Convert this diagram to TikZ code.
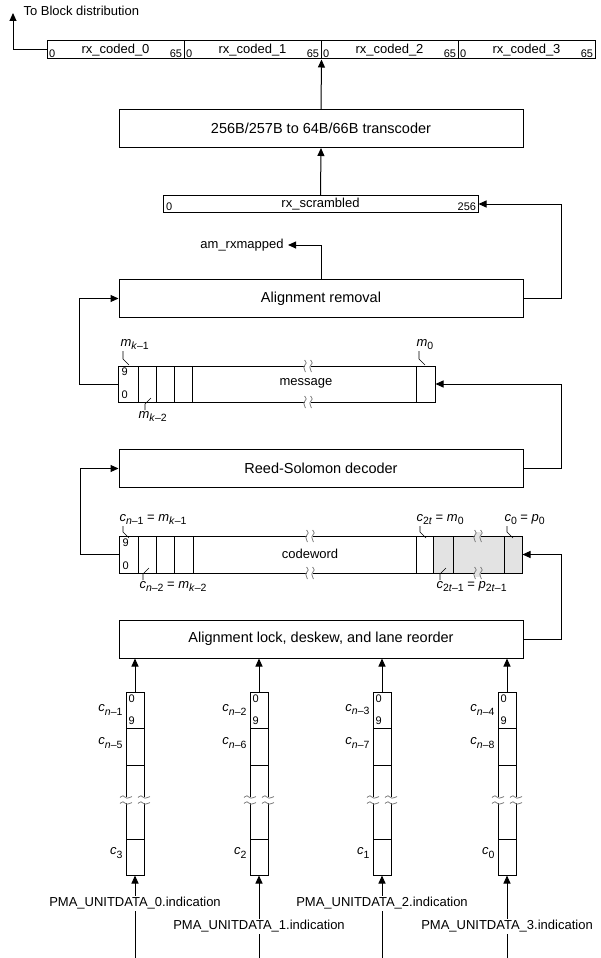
\documentclass[tikz,border=0pt]{standalone}
\usepackage{fontspec}
\setmainfont{Liberation Sans}
\usepackage{tikz}
\usetikzlibrary{positioning, arrows.meta}

\newcommand{\csym}[2]{\textit{#1}\raisebox{-0.45ex}{\fontsize{10.5}{12}\selectfont #2}}

\tikzset{
  blk/.style={draw, minimum width=404, minimum height=38, font=\fontsize{14.5}{17}\selectfont},
  reg/.style={draw, inner sep=0pt},
  lbl/.style={font=\fontsize{13}{15}\selectfont, inner sep=1pt},
  bit/.style={font=\fontsize{11}{12}\selectfont, inner sep=0pt},
  flow/.style={-{Triangle[length=8pt, width=7pt]}},
  lead/.style={line width=0.6pt},
  pics/brk/.style={code={
    \fill[#1] (-2.8,-4) rectangle (2.8,4);
    \draw[gray, line width=0.8pt] plot[smooth] coordinates {(-3.5,-6) (-1.8,-3) (-4.2,1) (-2.5,6)};
    \draw[gray, line width=0.8pt] plot[smooth] coordinates {(2.5,-6) (4.2,-3) (1.8,1) (3.5,6)};
  }},
  pics/brk/.default=white
}

\begin{document}
\begin{tikzpicture}[x=1pt, y=-1pt, line width=1pt]
\useasboundingbox (0,0) rectangle (601,958);

% Output register
\foreach \i/\x in {0/115.5, 1/252.5, 2/389.5, 3/526.5} {
  \node[reg, lbl, minimum width=137, minimum height=18] (coded\i) at (\x,50) {rx\_coded\_\i};
  \node[bit, anchor=south west] at ([shift={(2,-1.5)}]coded\i.south west) {0};
  \node[bit, anchor=south east] at ([shift={(-2,-1.5)}]coded\i.south east) {65};
}

% To block distribution
\coordinate (blkdist) at (13,13);
\node[lbl, anchor=west] (blkdisttxt) at (22,11) {To Block distribution};
\draw[flow] (coded0.west) -| (blkdist);

% Transcoder
\node[blk] (trans) at (321,128.5) {256B/257B to 64B/66B transcoder};
\draw[flow] (trans.north) -- (coded1.south east);

% rx_scrambled
\node[reg, lbl, minimum width=315, minimum height=17] (scr) at (320.5,204) {rx\_scrambled};
\node[bit, anchor=south west] at ([shift={(3,-1.5)}]scr.south west) {0};
\node[bit, anchor=south east] at ([shift={(-2,-1.5)}]scr.south east) {256};
\draw[flow] (scr.north) -- (trans.south);

% Alignment removal
\node[blk] (align) at (321,298.5) {Alignment removal};
\node[lbl, inner xsep=4pt] (amrx) at (242,245) {am\_rxmapped};
\draw[flow] (align.north) |- (amrx.east);
\draw[flow] (align.east) -- ++(38,0) |- (scr.east);

% Message
\node[reg, minimum width=317, minimum height=36] (msg) at (276.5,384) {};
\node[lbl] (msgtxt) at (306,383) {message};
\foreach \x in {138,156,174,192,416} \draw (\x,366) -- (\x,402);
\node[bit, anchor=west] at (121,372) {9};
\node[bit, anchor=west] at (121,395) {0};
\pic at (308,366) {brk};
\pic at (308,402) {brk};
\node[lbl, anchor=south west] (mk1) at (119,351) {\csym{m}{\textit{k}--1}};
\draw[lead] ([xshift=4]mk1.south west) -- ++(0,8) -- ++(6,6);
\node[lbl, anchor=south west] (m0) at (415,351) {\csym{m}{0}};
\draw[lead] ([xshift=4]m0.south west) -- ++(0,8) -- ++(6,6);
\node[lbl, anchor=north west] (mk2) at (137,410) {\csym{m}{\textit{k}--2}};
\draw[lead] ([xshift=8]mk2.north west) -- ++(0,-6) -- ++(6,-6);
\draw[flow] (msg.west) -- ++(-38,0) |- (align.west);

% Reed-Solomon decoder
\node[blk] (rs) at (321,468.5) {Reed-Solomon decoder};
\draw[flow] (rs.east) -- ++(38,0) |- (msg.east);

% Codeword
\fill[gray!22] (433,536) rectangle (522,573);
\node[reg, minimum width=403, minimum height=37] (cw) at (320.5,554.5) {};
\node[lbl] (cwtxt) at (310,554) {codeword};
\foreach \x in {138,156,174,193,416,433,453,504} \draw (\x,536) -- (\x,573);
\node[bit, anchor=west] at (122,543) {9};
\node[bit, anchor=west] at (122,566) {0};
\pic at (310,536) {brk};
\pic at (310,573) {brk};
\pic at (478,536) {brk=gray!22};
\pic at (478,573) {brk=gray!22};
\node[lbl, anchor=south west] (cn1) at (118,526) {\csym{c}{\textit{n}--1} = \csym{m}{\textit{k}--1}};
\draw[lead] ([xshift=5]cn1.south west) -- ++(0,6) -- ++(6,6);
\node[lbl, anchor=south west] (c2t) at (415,526) {\csym{c}{2\textit{t}} = \csym{m}{0}};
\draw[lead] ([xshift=5]c2t.south west) -- ++(0,6) -- ++(6,6);
\node[lbl, anchor=south west] (c0) at (503,526) {\csym{c}{0} = \csym{p}{0}};
\draw[lead] ([xshift=4]c0.south west) -- ++(0,6) -- ++(6,6);
\node[lbl, anchor=north west] (cn2) at (138,580) {\csym{c}{\textit{n}--2} = \csym{m}{\textit{k}--2}};
\draw[lead] ([xshift=5]cn2.north west) -- ++(0,-6) -- ++(6,-6);
\node[lbl, anchor=north west] (c2t1) at (435,580) {\csym{c}{2\textit{t}--1} = \csym{p}{2\textit{t}--1}};
\draw[lead] ([xshift=5]c2t1.north west) -- ++(0,-6) -- ++(6,-6);
\draw[flow] (cw.west) -- ++(-38,0) |- (rs.west);

% Alignment lock
\node[blk] (lock) at (321,639) {Alignment lock, deskew, and lane reorder};
\draw[flow] (lock.east) -- ++(38,0) |- (cw.east);

% Lanes
\foreach \i/\x/\y in {0/135/903, 1/259/926, 2/382/903, 3/507/926} {
  \pgfmathtruncatemacro\ka{\i+1}
  \pgfmathtruncatemacro\kb{\i+5}
  \pgfmathtruncatemacro\kc{3-\i}
  \node[reg, minimum width=18, minimum height=183] (lane\i) at (\x,783.5) {};
  \foreach \yy in {728,765,839} \draw (\x-9,\yy) -- (\x+9,\yy);
  \pic[rotate=90] at (\x-9,800) {brk};
  \pic[rotate=90] at (\x+9,800) {brk};
  \node[bit, anchor=west] at (\x-7,699) {0};
  \node[bit, anchor=west] at (\x-7,721) {9};
  \node[lbl, anchor=east] at (\x-11,710) {\csym{c}{\textit{n}--\ka}};
  \node[lbl, anchor=east] at (\x-11,743) {\csym{c}{\textit{n}--\kb}};
  \node[lbl, anchor=east] at (\x-11,853) {\csym{c}{\kc}};
  \draw[flow] (lane\i.north) -- (lane\i.north |- lock.south);
  \node[lbl] (pma\i) at (\x,\y) {PMA\_UNITDATA\_\i.indication};
  \coordinate (in\i) at (\x,958);
  \draw (in\i) -- (pma\i.south);
  \draw[flow] (pma\i.north) -- (lane\i.south);
}
\end{tikzpicture}
\end{document}
